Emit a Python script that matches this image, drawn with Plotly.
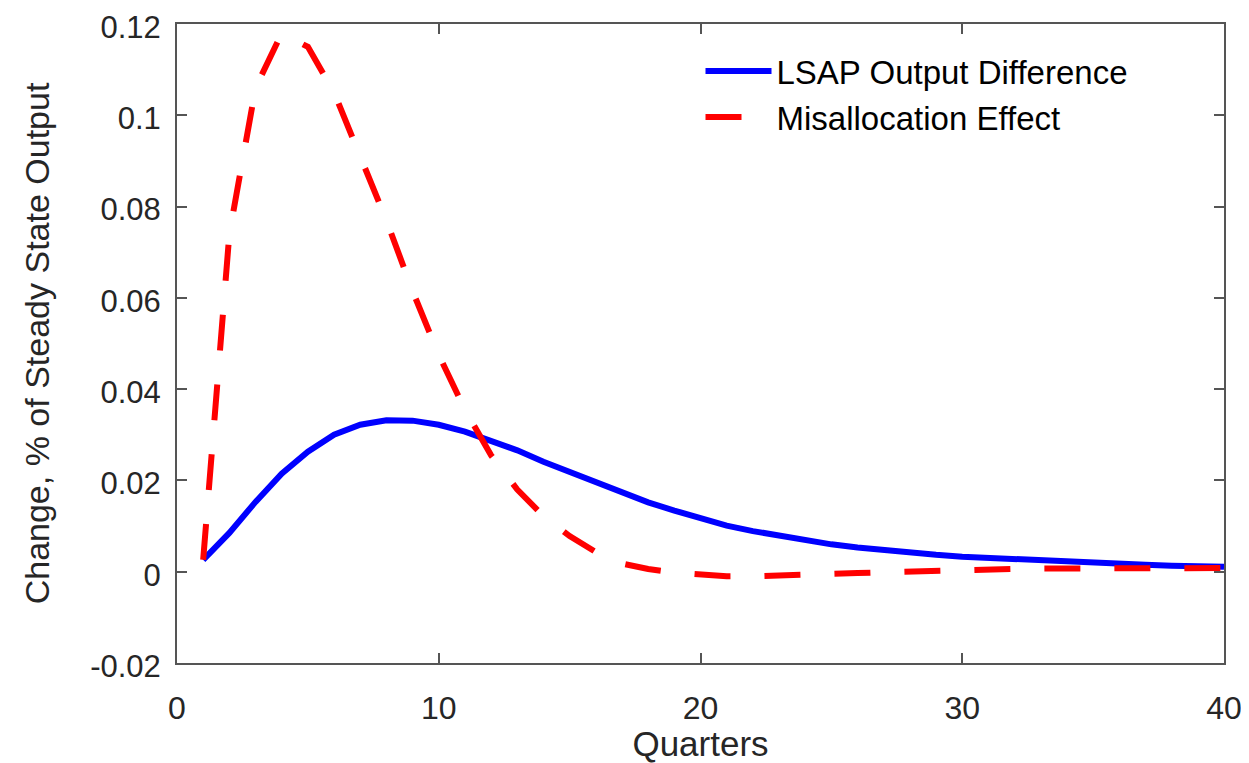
import plotly.graph_objects as go

quarters = list(range(1, 41))
lsap_output = [0.0026, 0.0085, 0.0153, 0.0215, 0.0263, 0.0300, 0.0322, 0.0332, 0.0331, 0.0322,
               0.0307, 0.0288, 0.0266, 0.0241, 0.0218, 0.0196, 0.0175, 0.0152, 0.0134, 0.0116,
               0.0101, 0.0089, 0.0079, 0.0069, 0.0060, 0.0053, 0.0047, 0.0041, 0.0037, 0.0033,
               0.0030, 0.0027, 0.0024, 0.0021, 0.0019, 0.0017, 0.0015, 0.0013, 0.0012, 0.0011]
misallocation = [0.0026, 0.0740, 0.1060, 0.1180, 0.1150, 0.1050, 0.0910, 0.0770, 0.0615, 0.0475,
                 0.0355, 0.0255, 0.0180, 0.0122, 0.0078, 0.0043, 0.0018, 0.0006, -0.0002, -0.0007,
                 -0.0010, -0.0010, -0.0009, -0.0007, -0.0005, -0.0003, -0.0001, 0.0001, 0.0003, 0.0004,
                 0.0005, 0.0006, 0.0007, 0.0007, 0.0008, 0.0008, 0.0008, 0.0008, 0.0008, 0.0008]

y_ticks = [-0.02, 0, 0.02, 0.04, 0.06, 0.08, 0.1, 0.12]
y_tick_labels = ["-0.02", "0", "0.02", "0.04", "0.06", "0.08", "0.1", "0.12"]
x_ticks = [0, 10, 20, 30, 40]

FONT = "Liberation Sans, Arial, Helvetica, sans-serif"

fig = go.Figure()
fig.add_trace(go.Scatter(x=quarters, y=lsap_output, mode="lines",
                         name="LSAP Output Difference",
                         line=dict(color="#0000ff", width=6)))
fig.add_trace(go.Scatter(x=quarters, y=misallocation, mode="lines",
                         name="Misallocation Effect",
                         line=dict(color="#ff0000", width=6, dash="36px,34px")))

axis_common = dict(showgrid=False, zeroline=False, showline=True, linecolor="#555555",
                   linewidth=2, mirror="ticks", ticks="inside", ticklen=10, tickcolor="#555555",
                   tickwidth=1.5, automargin=False, ticklabeloverflow="allow")

fig.update_layout(
    width=1241, height=755,
    paper_bgcolor="white", plot_bgcolor="white",
    margin=dict(l=169, r=25, t=16, b=100),
    xaxis=dict(range=[0, 40], tickvals=x_ticks, ticklabelstandoff=16,
               tickfont=dict(family=FONT, size=32, color="#262626"),
               title=dict(text="Quarters", standoff=6,
                          font=dict(family=FONT, size=35, color="#262626")),
               **axis_common),
    yaxis=dict(range=[-0.02, 0.12001], tickvals=y_ticks, ticktext=y_tick_labels,
               ticklabelstandoff=8, ticklabelshift=3,
               tickfont=dict(family=FONT, size=31, color="#262626"),
               title=dict(text="Change, % of Steady State Output", standoff=30,
                          font=dict(family=FONT, size=34, color="#262626")),
               **axis_common),
    legend=dict(x=0.5, y=0.97, xanchor="left", yanchor="top",
                bgcolor="rgba(255,255,255,0)", borderwidth=0,
                font=dict(family=FONT, size=33, color="black"),
                tracegroupgap=0, itemwidth=66),
    showlegend=True,
)

fig.write_html("out.html")
